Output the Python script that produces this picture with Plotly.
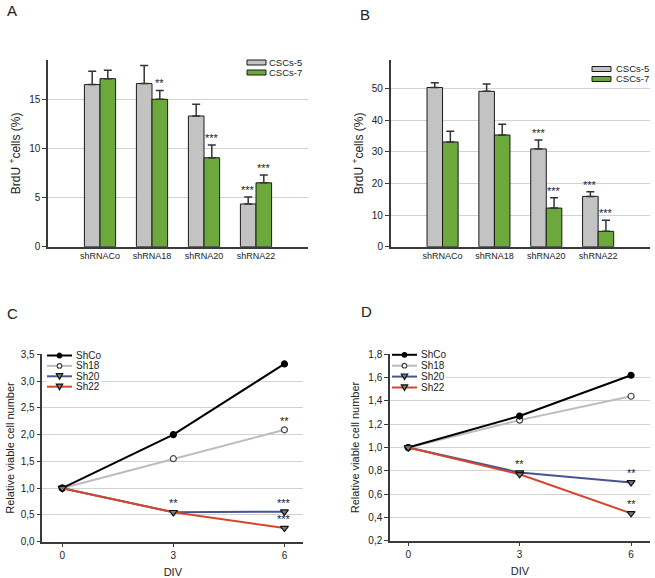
import plotly.graph_objects as go

W, H = 655, 578

# ---------------- data ----------------
categories = ['shRNACo', 'shRNA18', 'shRNA20', 'shRNA22']
bar_series = ['CSCs-5', 'CSCs-7']

A_cscs5 = [16.5, 16.6, 13.3, 4.35]
A_cscs5_err = [1.35, 1.85, 1.2, 0.7]
A_cscs7 = [17.1, 15.0, 9.05, 6.5]
A_cscs7_err = [0.85, 0.9, 1.3, 0.8]
A_cscs5_sig = ['', '', '', '***']
A_cscs7_sig = ['', '**', '***', '***']

B_cscs5 = [50.3, 49.1, 30.9, 15.9]
B_cscs5_err = [1.5, 2.3, 2.8, 1.5]
B_cscs7 = [33.1, 35.3, 12.2, 4.85]
B_cscs7_err = [3.4, 3.4, 3.3, 3.5]
B_cscs5_sig = ['', '', '***', '***']
B_cscs7_sig = ['', '', '***', '***']

div = [0, 3, 6]
line_series = ['ShCo', 'Sh18', 'Sh20', 'Sh22']
C_shco = [1.0, 2.0, 3.32]
C_sh18 = [1.0, 1.55, 2.09]
C_sh20 = [1.0, 0.55, 0.56]
C_sh22 = [1.0, 0.55, 0.255]
C_sh18_sig = ['', '', '**']
C_sh20_sig = ['', '**', '***']
C_sh22_sig = ['', '', '***']

D_shco = [1.0, 1.27, 1.62]
D_sh18 = [1.0, 1.235, 1.44]
D_sh20 = [1.0, 0.785, 0.70]
D_sh22 = [1.0, 0.77, 0.435]
D_sh18_sig = ['', '', '']
D_sh20_sig = ['', '**', '**']
D_sh22_sig = ['', '', '**']

# ---------------- styles ----------------
FONT = 'Liberation Sans, Arial, sans-serif'
AX = '#3a3a3a'
GRID = '#d2d2d2'
TXT = '#222222'
bar_colors = {'CSCs-5': '#c3c3c3', 'CSCs-7': '#6ca83c'}
line_styles = {
    'ShCo': dict(color='#000000', symbol='circle', fill='#000000', mline='#000000', size=6),
    'Sh18': dict(color='#bcbcbc', symbol='circle', fill='#ffffff', mline='#444444', size=6),
    'Sh20': dict(color='#48548f', symbol='triangle-down', fill='#7a7a7a', mline='#111111', size=7),
    'Sh22': dict(color='#d5472d', symbol='triangle-down', fill='#7a7a7a', mline='#111111', size=7),
}


def px_x(p):
    return p / W


def px_y(p):
    return 1 - p / H


fig = go.Figure()
annotations = []
shapes = []

# ---------------- bar panels ----------------
bar_panels = [
    ('x', 'y', [A_cscs5, A_cscs7], [A_cscs5_err, A_cscs7_err], [A_cscs5_sig, A_cscs7_sig]),
    ('x2', 'y2', [B_cscs5, B_cscs7], [B_cscs5_err, B_cscs7_err], [B_cscs5_sig, B_cscs7_sig]),
]
for xa, ya, vals, errs, sigs in bar_panels:
    for k, name in enumerate(bar_series):
        fig.add_trace(go.Bar(
            x=categories, y=vals[k], name=name, xaxis=xa, yaxis=ya, showlegend=False,
            marker=dict(color=bar_colors[name], line=dict(color='#1a1a1a', width=1)),
            error_y=dict(type='data', array=errs[k], arrayminus=[0] * len(vals[k]),
                         symmetric=False, color='#333333', thickness=1.5, width=4),
        ))
        off = -0.15 if k == 0 else 0.15
        for i, s in enumerate(sigs[k]):
            if s:
                annotations.append(dict(
                    x=i + off, y=vals[k][i] + errs[k][i], xref=xa, yref=ya, text=s,
                    showarrow=False, yanchor='bottom', yshift=-1,
                    font=dict(size=11, family=FONT, color=TXT)))

# ---------------- line panels ----------------
line_panels = [
    ('x3', 'y3', {'ShCo': C_shco, 'Sh18': C_sh18, 'Sh20': C_sh20, 'Sh22': C_sh22},
     {'Sh18': C_sh18_sig, 'Sh20': C_sh20_sig, 'Sh22': C_sh22_sig}),
    ('x4', 'y4', {'ShCo': D_shco, 'Sh18': D_sh18, 'Sh20': D_sh20, 'Sh22': D_sh22},
     {'Sh18': D_sh18_sig, 'Sh20': D_sh20_sig, 'Sh22': D_sh22_sig}),
]
for xa, ya, series, sigs in line_panels:
    for name in ['Sh18', 'ShCo', 'Sh20', 'Sh22']:
        st = line_styles[name]
        fig.add_trace(go.Scatter(
            x=div, y=series[name], name=name, mode='lines+markers', xaxis=xa, yaxis=ya,
            showlegend=False,
            line=dict(color=st['color'], width=2),
            marker=dict(symbol=st['symbol'], size=st['size'], color=st['fill'],
                        line=dict(color=st['mline'], width=1.2)),
        ))
    for name, sl in sigs.items():
        for i, s in enumerate(sl):
            if s:
                annotations.append(dict(
                    x=div[i], y=series[name][i], xref=xa, yref=ya, text=s,
                    showarrow=False, yanchor='bottom', yshift=1,
                    font=dict(size=11, family=FONT, color=TXT)))


# ---------------- manual legends ----------------
def bar_legend(x0, ytop, text_x):
    for k, name in enumerate(bar_series):
        y0 = ytop + k * 10
        shapes.append(dict(type='rect', xref='paper', yref='paper',
                           x0=px_x(x0), x1=px_x(x0 + 19), y0=px_y(y0), y1=px_y(y0 + 5),
                           fillcolor=bar_colors[name], line=dict(color='#1a1a1a', width=1)))
        annotations.append(dict(x=px_x(text_x), y=px_y(y0 + 2.5), xref='paper', yref='paper',
                                text=name, showarrow=False, xanchor='left', yanchor='middle',
                                font=dict(size=9.5, family=FONT, color=TXT)))


def line_legend(x0, ytop, step):
    shapes.append(dict(type='rect', xref='paper', yref='paper', layer='above',
                       x0=px_x(x0 - 1), x1=px_x(x0 + 54), y0=px_y(ytop - 4.5),
                       y1=px_y(ytop + 3 * step + 5), fillcolor='white', line=dict(width=0)))
    for k, name in enumerate(line_series):
        st = line_styles[name]
        yc = ytop + k * step
        shapes.append(dict(type='line', xref='paper', yref='paper', layer='above',
                           x0=px_x(x0), x1=px_x(x0 + 25), y0=px_y(yc), y1=px_y(yc),
                           line=dict(color=st['color'], width=2)))
        cx = x0 + 12.5
        if st['symbol'] == 'circle':
            r = 2.3
            shapes.append(dict(type='circle', xref='paper', yref='paper', layer='above',
                               x0=px_x(cx - r), x1=px_x(cx + r), y0=px_y(yc - r), y1=px_y(yc + r),
                               fillcolor=st['fill'], line=dict(color=st['mline'], width=1.2)))
        else:
            path = 'M {} {} L {} {} L {} {} Z'.format(
                px_x(cx - 3.2), px_y(yc - 2.6), px_x(cx + 3.2), px_y(yc - 2.6), px_x(cx), px_y(yc + 3))
            shapes.append(dict(type='path', xref='paper', yref='paper', layer='above', path=path,
                               fillcolor=st['fill'], line=dict(color=st['mline'], width=1.2)))
        annotations.append(dict(x=px_x(x0 + 27), y=px_y(yc), xref='paper', yref='paper',
                                text=name, showarrow=False, xanchor='left', yanchor='middle',
                                font=dict(size=10, family=FONT, color=TXT)))


bar_legend(247, 60, 267)
bar_legend(592, 66.5, 614)
line_legend(47, 355.5, 10.4)
line_legend(392, 354.8, 10.9)

# ---------------- panel letters ----------------
for letter, lx, ly in [('A', 12, 10), ('B', 365, 14), ('C', 12, 313.5), ('D', 367, 311)]:
    annotations.append(dict(x=px_x(lx), y=px_y(ly), xref='paper', yref='paper', text=letter,
                            showarrow=False, xanchor='center', yanchor='middle',
                            font=dict(size=15, family=FONT, color=TXT)))

# ---------------- axes ----------------
tickf = dict(size=10, family=FONT, color=TXT)


def cat_axis(dom, anchor):
    return dict(domain=dom, anchor=anchor, type='category', range=[-1, 4], automargin=False,
                showline=True, linecolor=AX, linewidth=1.5, ticks='', showgrid=False,
                tickfont=dict(size=9, family=FONT, color=TXT), zeroline=False)


def val_axis(dom, anchor, rng, tickvals, title, tsize, standoff, fmt=None):
    d = dict(domain=dom, anchor=anchor, range=rng, tickvals=tickvals, showgrid=True,
             gridcolor=GRID, gridwidth=1, showline=True, linecolor=AX, linewidth=1.5,
             ticks='outside', ticklen=4, tickcolor=AX, tickwidth=1, zeroline=False,
             tickfont=tickf, automargin=False,
             title=dict(text=title, font=dict(size=tsize, family=FONT, color=TXT),
                        standoff=standoff))
    if fmt:
        d['tickformat'] = fmt
    return d


def num_x_axis(dom, anchor, rng):
    return dict(domain=dom, anchor=anchor, range=rng, tickvals=div, showgrid=False,
                showline=True, linecolor=AX, linewidth=1.5, ticks='outside', ticklen=4,
                tickcolor=AX, zeroline=False, tickfont=tickf, automargin=False,
                title=dict(text='DIV', font=dict(size=11, family=FONT, color=TXT), standoff=8))


ytop_ab = [px_y(246.7), px_y(60)]
brdu = 'BrdU <sup>+</sup>cells (%)'
ylab = 'Relative viable cell number'
fig.update_layout(
    xaxis=cat_axis([px_x(48), px_x(308)], 'y'),
    yaxis=val_axis(ytop_ab, 'x', [0, 19], [0, 5, 10, 15], brdu, 12, 6),
    xaxis2=cat_axis([px_x(390.7), px_x(650)], 'y2'),
    yaxis2=val_axis(ytop_ab, 'x2', [0, 59], [0, 10, 20, 30, 40, 50], brdu, 12, 6),
    xaxis3=num_x_axis([px_x(42.3), px_x(303.3)], 'y3', [-0.54, 6.51]),
    yaxis3=val_axis([px_y(541.7), px_y(354.3)], 'x3', [0, 3.5],
                    [0, 0.5, 1, 1.5, 2, 2.5, 3, 3.5], ylab, 11, 4, '.1f'),
    xaxis4=num_x_axis([px_x(390), px_x(650)], 'y4', [-0.49, 6.51]),
    yaxis4=val_axis([px_y(540.7), px_y(354.3)], 'x4', [0.2, 1.8],
                    [0.2, 0.4, 0.6, 0.8, 1.0, 1.2, 1.4, 1.6, 1.8], ylab, 11, 6, '.1f'),
    barmode='group', bargap=0.4, bargroupgap=0,
    separators=', ',
    width=W, height=H, margin=dict(l=0, r=0, t=0, b=0),
    paper_bgcolor='white', plot_bgcolor='white',
    font=dict(family=FONT, color=TXT),
    showlegend=False,
    annotations=annotations, shapes=shapes,
)

fig.write_html('out.html', post_script="document.body.style.margin='0';",
               config={'displayModeBar': False})
